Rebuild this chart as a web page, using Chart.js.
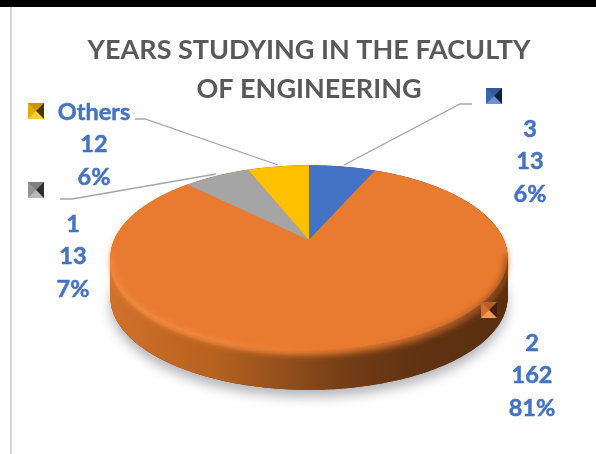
<!DOCTYPE html>
<html>
<head>
<meta charset="utf-8">
<title>Years studying in the faculty of engineering</title>
<script src="https://cdn.jsdelivr.net/npm/chart.js@4"></script>
<style>
    html, body { margin: 0; padding: 0; background: #fff; overflow: hidden; }
    #topBand { position: absolute; left: 0; top: 0; width: 596px; height: 7px; background: #000; }
    #leftEdge { position: absolute; left: 10px; top: 7px; width: 2px; height: 447px; background: #d9d9d9; }
    #chart { position: absolute; left: 0; top: 0; }
</style>
</head>
<body>
<div id="topBand"></div>
<div id="leftEdge"></div>
<canvas id="chart" width="596" height="454"></canvas>
<script>
// Data
const categories = ['3', '2', '1', 'Others'];
const values = [13, 162, 13, 12];
const percents = ['6%', '81%', '7%', '6%'];
const titleLines = ['YEARS STUDYING IN THE FACULTY', 'OF ENGINEERING'];

const sliceColors = ['#4472C4', '#E97B30', '#A5A5A5', '#FFC000'];
const labelBlue = '#4472C4';

// Where Excel placed each label block (same order as categories)
const labelCenters = [[530, 129], [532, 343], [73, 224], [94, 112]];
const markerCorners = [[486, 88], [481, 302], [28, 182], [28, 103]];
const leaderLines = [
    [[472, 104], [460, 104], [344, 165]],
    null,
    [[60, 199], [72, 199], [216, 174]],
    [[135, 119], [145, 119], [278, 165]]
];

// Perspective of the tilted disc
const tilt = 0.189;
const squash = 0.4565;
const wallDepth = 40;

function project(arc, angle) {
    const X = Math.cos(angle), Y = Math.sin(angle);
    const d = 1 - tilt * Y;
    return [arc.x + arc.outerRadius * X / d, arc.y + arc.outerRadius * squash * Y / d];
}

function tracePath(ctx, arc, from, to, dy) {
    const steps = Math.max(2, Math.ceil((to - from) * 60));
    for (let i = 0; i <= steps; i++) {
        const p = project(arc, from + (to - from) * i / steps);
        ctx.lineTo(p[0], p[1] + dy);
    }
}

function discPath(ctx, arc, dy) {
    ctx.beginPath();
    tracePath(ctx, arc, 0, Math.PI * 2, dy);
    ctx.closePath();
}

function wallGradient(ctx) {
    const g = ctx.createLinearGradient(110, 0, 510, 0);
    g.addColorStop(0, '#D0712C');
    g.addColorStop(0.25, '#B8621F');
    g.addColorStop(0.45, '#8F4E1C');
    g.addColorStop(0.6, '#723C16');
    g.addColorStop(0.8, '#5E3212');
    g.addColorStop(1, '#5A2F10');
    return g;
}

function drawMarker(ctx, x, y, color) {
    const s = 16, cx = x + s / 2, cy = y + s / 2;
    const tris = [
        [[x, y], [x + s, y], 'rgba(0,0,0,0.22)'],
        [[x + s, y], [x + s, y + s], 'rgba(0,0,0,0.72)'],
        [[x + s, y + s], [x, y + s], 'rgba(255,255,255,0.22)'],
        [[x, y + s], [x, y], 'rgba(0,0,0,0.1)']
    ];
    ctx.fillStyle = color;
    ctx.fillRect(x, y, s, s);
    ctx.save();
    ctx.beginPath();
    ctx.rect(x, y, s, s);
    ctx.clip();
    ctx.filter = 'blur(0.7px)';
    tris.forEach(t => {
        ctx.fillStyle = t[2];
        ctx.beginPath();
        ctx.moveTo(t[0][0], t[0][1]);
        ctx.lineTo(t[1][0], t[1][1]);
        ctx.lineTo(cx, cy);
        ctx.closePath();
        ctx.fill();
    });
    ctx.restore();
}

const pie3d = {
    id: 'pie3d',
    // Replace the flat arcs with the tilted disc, using the arcs Chart.js laid out
    beforeDatasetDraw(chart, args) {
        const ctx = chart.ctx;
        const arcs = args.meta.data;
        const arc = arcs[0];

        ctx.save();
        // soft shadow under the disc
        ctx.save();
        ctx.shadowColor = 'rgba(60,60,70,0.38)';
        ctx.shadowBlur = 12;
        ctx.shadowOffsetY = 7;
        discPath(ctx, arc, wallDepth);
        ctx.fillStyle = '#6b3814';
        ctx.fill();
        ctx.restore();

        // side wall
        ctx.fillStyle = wallGradient(ctx);
        for (let dy = 0; dy <= wallDepth; dy++) {
            discPath(ctx, arc, dy);
            ctx.fill();
        }

        // blurred bevel between wall and top
        ctx.save();
        ctx.filter = 'blur(3px)';
        const lip = ctx.createLinearGradient(110, 0, 510, 0);
        lip.addColorStop(0, '#F58B3E');
        lip.addColorStop(0.5, '#E97B30');
        lip.addColorStop(1, '#B9642A');
        ctx.fillStyle = lip;
        discPath(ctx, arc, 5);
        ctx.fill();
        ctx.restore();

        // top surface
        arcs.forEach(el => {
            ctx.beginPath();
            ctx.moveTo(el.x, el.y);
            tracePath(ctx, el, el.startAngle, el.endAngle, 0);
            ctx.closePath();
            ctx.fillStyle = el.options.backgroundColor;
            ctx.fill();
        });

        // light rim on the left of the front edge, dark on the right
        ctx.save();
        discPath(ctx, arc, 6);
        ctx.clip();
        ctx.filter = 'blur(3px)';
        const rim = ctx.createLinearGradient(110, 0, 510, 0);
        rim.addColorStop(0, 'rgba(250,150,80,0.55)');
        rim.addColorStop(0.45, 'rgba(250,150,80,0.3)');
        rim.addColorStop(0.62, 'rgba(233,123,48,0)');
        rim.addColorStop(0.8, 'rgba(110,55,20,0.3)');
        rim.addColorStop(1, 'rgba(90,45,15,0.7)');
        ctx.strokeStyle = rim;
        ctx.lineWidth = 5;
        ctx.beginPath();
        tracePath(ctx, arc, 0.15, Math.PI - 0.15, 2);
        ctx.stroke();
        ctx.restore();
        ctx.restore();
        return false;
    },
    afterDraw(chart) {
        const ctx = chart.ctx;
        ctx.save();

        ctx.strokeStyle = '#A6A6A6';
        ctx.lineWidth = 1.3;
        leaderLines.forEach(line => {
            if (!line) return;
            ctx.beginPath();
            line.forEach((p, i) => i ? ctx.lineTo(p[0], p[1]) : ctx.moveTo(p[0], p[1]));
            ctx.stroke();
        });

        categories.forEach((c, i) => {
            drawMarker(ctx, markerCorners[i][0], markerCorners[i][1], sliceColors[i]);
        });

        ctx.fillStyle = labelBlue;
        ctx.strokeStyle = labelBlue;
        ctx.lineWidth = 0.5;
        ctx.font = 'bold 23.5px Lato';
        ctx.textAlign = 'center';
        ctx.textBaseline = 'middle';
        categories.forEach((c, i) => {
            const lines = [c, String(values[i]), percents[i]];
            lines.forEach((txt, j) => {
                const y = labelCenters[i][1] + j * 32.5;
                ctx.fillText(txt, labelCenters[i][0], y);
                ctx.strokeText(txt, labelCenters[i][0], y);
            });
        });
        ctx.restore();
    }
};

new Chart(document.getElementById('chart').getContext('2d'), {
    type: 'pie',
    data: {
        labels: categories,
        datasets: [{
            data: values,
            backgroundColor: sliceColors,
            borderWidth: 0,
            radius: 195
        }]
    },
    options: {
        responsive: false,
        animation: false,
        layout: { padding: { left: 22, bottom: 84 } },
        plugins: {
            legend: { display: false },
            tooltip: { enabled: false },
            title: {
                display: true,
                text: titleLines,
                color: '#595959',
                font: { family: 'Lato', weight: 'bold', size: 27, lineHeight: 1.43 },
                padding: { top: 31, bottom: 2 }
            }
        }
    },
    plugins: [pie3d]
});
</script>
</body>
</html>
